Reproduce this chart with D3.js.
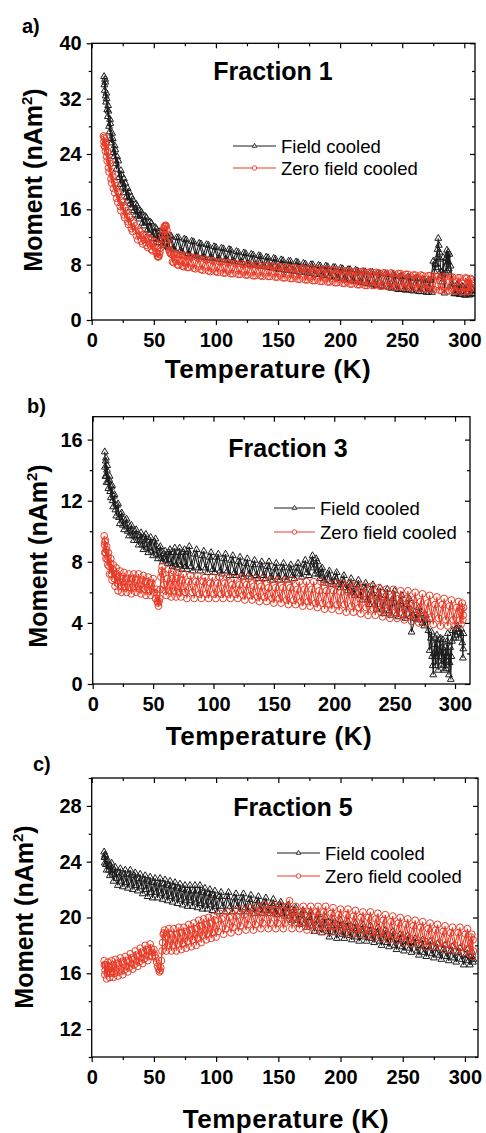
<!DOCTYPE html>
<html>
  <head>
    <meta charset="utf-8">
    <title>Moment vs temperature, fractions 1, 3 and 5</title>
    <style type="text/css">
      body {
        margin: 0;
        background: #fff;
        overflow: hidden;
      }
      text { font-family: "Liberation Sans", Arial, sans-serif; fill: #000; }
    </style>
    <script src="https://d3js.org/d3.v7.min.js"></script>
  </head>
  <body>
    <svg width="486" height="1133"></svg>
    <script>
      // ---- data: [temperature K, moment nAm^2] ----
      // each curve is a noisy band, kept as two interleaved sweeps (…, …b)
      const fc1 = [[10,35.2],[10.5,33.2],[11,34.4],[11.5,31.5],[12,32.0],[13,29.4],[13.5,30.2],[14.5,27.2],[15,28.4],[16,25.6],[17,26.2],[18,23.6],[19,24.6],[20,21.8],[21.5,23.0],[23,19.6],[24,21.0],[25.5,18.4],[27,19.8],[28.5,17.2],[30,18.5],[31.5,16.2],[33,17.4],[35,15.2],[36.5,16.5],[38,14.6],[40,15.6],[42,13.6],[44,14.8],[46,12.6],[48,14.0],[50,11.8],[52,13.2],[54,11.2],[56,12.7],[58,10.8],[60,12.4],[62,10.4],[64,12.1],[67,10.1],[70,11.9],[73,9.8],[76,11.6],[79,9.4],[82,11.3],[85,9.2],[88,11.0],[91,9.0],[94,10.8],[97,8.9],[100,10.5],[103,8.8],[106,10.3],[109,8.6],[112,10.1],[115,8.4],[118,9.8],[121,8.3],[124,9.6],[127,8.0],[130,9.4],[133,7.9],[136,9.2],[139,7.7],[142,9.0],[145,7.5],[148,8.8],[151,7.3],[154,8.6],[157,7.2],[160,8.5],[163,7.0],[166,8.3],[169,6.9],[172,8.1],[175,6.7],[178,8.0],[181,6.6],[184,7.8],[187,6.4],[190,7.7],[193,6.2],[196,7.6],[199,6.0],[202,7.4],[205,5.8],[208,7.3],[211,5.6],[214,7.1],[217,5.4],[220,7.0],[223,5.2],[226,6.9],[229,5.0],[232,6.7],[235,4.8],[238,6.6],[241,4.6],[244,6.4],[247,4.4],[250,6.3],[253,4.3],[256,6.1],[259,4.2],[262,6.0],[265,4.1],[268,5.8],[271,4.0],[273,5.7],[275,8.5],[276,7.0],[277,8.0],[278,9.0],[279,11.8],[279.5,10.8],[280,9.8],[280.5,8.8],[281,7.0],[282,5.5],[283,9.0],[284,3.9],[285,6.8],[286,10.1],[286.5,9.4],[287,8.4],[287.5,7.4],[288,9.5],[289,7.8],[290,5.2],[292,3.8],[294,5.1],[296,3.7],[298,4.9],[300,3.6],[302,4.8],[304,3.6],[306,4.6],[306.5,3.8]];
      const fc1b = [[10.2,34.0],[10.8,34.8],[11.2,32.4],[11.8,32.8],[12.5,30.4],[13.2,31.0],[14,28.0],[14.8,29.0],[15.5,26.2],[16.5,27.0],[17.5,24.2],[18.5,25.2],[19.5,22.6],[20.5,23.6],[22,20.6],[23.5,21.6],[25,19.2],[26,20.4],[28,17.8],[29,19.0],[31,16.8],[32,17.8],[34,15.8],[35.5,16.8],[37,15.0],[39,15.8],[41,14.0],[43,15.0],[45,13.0],[47,14.2],[49,12.3],[51,13.4],[53,11.6],[55,12.8],[57,11.0],[59,12.5],[61,10.6],[63,12.2],[65.5,10.3],[68.5,11.9],[71.5,10.0],[74.5,11.7],[77.5,9.6],[80.5,11.4],[83.5,9.3],[86.5,11.1],[89.5,9.1],[92.5,10.9],[95.5,9.0],[98.5,10.6],[101.5,8.8],[104.5,10.4],[107.5,8.7],[110.5,10.2],[113.5,8.5],[116.5,9.9],[119.5,8.3],[122.5,9.7],[125.5,8.1],[128.5,9.5],[131.5,7.9],[134.5,9.3],[137.5,7.8],[140.5,9.1],[143.5,7.6],[146.5,8.9],[149.5,7.4],[152.5,8.7],[155.5,7.2],[158.5,8.5],[161.5,7.1],[164.5,8.4],[167.5,6.9],[170.5,8.2],[173.5,6.8],[176.5,8.0],[179.5,6.6],[182.5,7.9],[185.5,6.5],[188.5,7.8],[191.5,6.3],[194.5,7.6],[197.5,6.1],[200.5,7.5],[203.5,5.9],[206.5,7.3],[209.5,5.7],[212.5,7.2],[215.5,5.5],[218.5,7.0],[221.5,5.3],[224.5,6.9],[227.5,5.1],[230.5,6.8],[233.5,4.9],[236.5,6.6],[239.5,4.7],[242.5,6.5],[245.5,4.5],[248.5,6.3],[251.5,4.4],[254.5,6.2],[257.5,4.3],[260.5,6.0],[263.5,4.1],[266.5,5.9],[269.5,4.0],[272,5.7],[274,4.0],[276.5,8.2],[278.5,10.2],[279,7.6],[281.5,6.4],[285.5,8.9],[286,7.1],[287,9.8],[291,4.9],[293,3.8],[295,5.0],[297,3.7],[299,4.8],[301,3.6],[303,4.7],[305,3.7],[306.3,4.4]];
      const zfc1 = [[9.5,26.6],[10,25.2],[10.5,26.2],[11,24.4],[11.5,25.4],[12.5,23.0],[13,24.4],[14,21.4],[15,22.6],[16,19.8],[17,20.8],[18.5,18.4],[19.5,19.4],[21,17.0],[22,18.2],[23.5,15.8],[25,17.0],[26.5,14.8],[28,15.8],[29.5,13.8],[31,14.8],[33,12.8],[35,13.6],[37,11.6],[39,12.8],[41,11.0],[43,12.2],[45,10.5],[47,11.7],[49,10.0],[51,11.2],[52.5,9.6],[53.5,9.1],[54.5,9.5],[55.5,10.4],[56.5,11.6],[57.5,12.8],[58.5,13.5],[59.5,13.7],[60.5,13.0],[61.5,11.6],[62.5,10.0],[63.5,9.6],[65,8.4],[67,9.6],[69,8.0],[71,9.4],[73,7.8],[75,9.3],[77,7.6],[79,9.1],[82,7.5],[85,9.0],[88,7.3],[91,8.8],[94,7.1],[97,8.6],[100,7.0],[103,8.4],[106,6.8],[109,8.3],[112,6.7],[115,8.2],[118,6.6],[121,8.1],[124,6.5],[127,8.0],[130,6.4],[133,7.9],[136,6.4],[139,7.8],[142,6.3],[145,7.8],[148,6.2],[151,7.7],[154,6.1],[157,7.6],[160,6.0],[163,7.6],[166,5.9],[169,7.5],[172,5.8],[175,7.4],[178,5.7],[181,7.4],[184,5.6],[187,7.3],[190,5.5],[193,7.2],[196,5.4],[199,7.2],[202,5.3],[205,7.1],[208,5.2],[211,7.0],[214,5.1],[217,7.0],[220,5.0],[223,6.9],[226,5.0],[229,6.9],[232,4.9],[235,6.8],[238,4.9],[241,6.8],[244,4.8],[247,6.7],[250,4.8],[253,6.6],[256,4.7],[259,6.5],[262,4.6],[265,6.5],[268,4.5],[271,6.4],[274,4.4],[277,6.3],[280,4.3],[283,6.3],[286,4.2],[289,6.2],[292,4.2],[295,6.1],[298,4.1],[301,6.1],[303,4.1],[305,6.0],[305.5,4.3],[306,5.5]];
      const zfc1b = [[9.8,25.8],[10.2,26.4],[10.8,25.0],[11.2,25.6],[12,23.6],[12.8,24.2],[13.5,22.0],[14.5,23.0],[15.5,20.4],[16.5,21.4],[17.5,19.0],[18.8,19.8],[20,17.6],[21.5,18.4],[23,16.4],[24.2,17.2],[26,15.2],[27.2,16.2],[29,14.2],[30.2,15.0],[32,13.2],[34,14.0],[36,12.2],[38,13.0],[40,11.4],[42,12.4],[44,10.8],[46,11.9],[48,10.2],[50,11.4],[51.8,9.8],[53,9.2],[54,9.2],[55,9.9],[56,10.9],[57,12.2],[58,13.2],[59,13.6],[60,13.5],[61,12.4],[62,10.8],[63,9.8],[64,9.5],[66,8.3],[68,9.5],[70,7.9],[72,9.4],[74,7.7],[76,9.2],[78,7.6],[80.5,9.1],[83.5,7.4],[86.5,8.9],[89.5,7.2],[92.5,8.7],[95.5,7.0],[98.5,8.5],[101.5,6.9],[104.5,8.4],[107.5,6.8],[110.5,8.3],[113.5,6.7],[116.5,8.1],[119.5,6.6],[122.5,8.0],[125.5,6.5],[128.5,7.9],[131.5,6.4],[134.5,7.9],[137.5,6.3],[140.5,7.8],[143.5,6.3],[146.5,7.7],[149.5,6.2],[152.5,7.7],[155.5,6.1],[158.5,7.6],[161.5,6.0],[164.5,7.5],[167.5,5.9],[170.5,7.5],[173.5,5.8],[176.5,7.4],[179.5,5.7],[182.5,7.3],[185.5,5.6],[188.5,7.3],[191.5,5.5],[194.5,7.2],[197.5,5.4],[200.5,7.1],[203.5,5.3],[206.5,7.1],[209.5,5.2],[212.5,7.0],[215.5,5.1],[218.5,7.0],[221.5,5.0],[224.5,6.9],[227.5,5.0],[230.5,6.8],[233.5,4.9],[236.5,6.8],[239.5,4.9],[242.5,6.7],[245.5,4.8],[248.5,6.7],[251.5,4.7],[254.5,6.6],[257.5,4.7],[260.5,6.5],[263.5,4.6],[266.5,6.4],[269.5,4.5],[272.5,6.4],[275.5,4.4],[278.5,6.3],[281.5,4.3],[284.5,6.2],[287.5,4.2],[290.5,6.2],[293.5,4.2],[296.5,6.1],[299.5,4.1],[302,6.0],[304,4.2],[305.8,5.8],[306.2,4.6]];

      const fc3 = [[10,15.2],[10.5,13.6],[11,14.8],[11.5,13.2],[12,14.3],[13,12.8],[14,13.6],[15,12.2],[16,13.0],[17,11.6],[18,12.4],[19.5,11.0],[21,11.8],[22.5,10.5],[24,11.2],[26,10.1],[28,10.8],[30,9.7],[32,10.4],[34,9.4],[36,10.1],[38,9.1],[40,9.9],[42,8.8],[44,9.8],[46,8.6],[48,9.6],[50,8.4],[52,9.5],[54,8.2],[56,9.0],[58,8.0],[60,8.7],[62,7.9],[64,8.8],[66,7.7],[68,8.9],[70,7.6],[72,8.9],[74,7.5],[76,8.8],[78,7.5],[80,9.0],[83,7.4],[86,8.8],[89,7.4],[92,8.7],[95,7.3],[98,8.6],[101,7.3],[104,8.5],[107,7.2],[110,8.5],[113,7.1],[116,8.4],[119,7.1],[122,8.3],[125,7.0],[128,8.2],[131,7.0],[134,8.1],[137,6.9],[140,8.0],[143,6.9],[146,8.0],[149,6.8],[152,7.9],[155,6.8],[158,7.9],[161,6.8],[164,7.8],[167,6.9],[170,7.9],[173,7.0],[176,8.1],[179,7.1],[182,8.4],[184,7.2],[186,8.0],[188,6.9],[190,7.6],[193,6.6],[196,7.4],[199,6.5],[202,7.3],[205,6.3],[208,7.1],[211,6.1],[214,6.9],[217,5.8],[220,6.8],[223,5.5],[226,6.6],[229,5.2],[232,6.5],[235,4.9],[238,6.3],[241,4.6],[244,6.2],[247,4.5],[250,6.1],[253,4.4],[256,5.8],[259,4.3],[262,5.6],[264,3.4],[267,4.3],[270,5.0],[273,4.0],[276,4.5],[278,3.5],[280,3.0],[281,1.8],[282,0.6],[283,2.6],[284,1.2],[285,3.2],[286,0.9],[287,2.2],[288,3.0],[289,1.3],[290,2.9],[291,0.9],[292,2.4],[293,1.5],[294,3.3],[295,0.6],[296,2.4],[296.5,0.3],[297,1.8],[298,3.5],[300,3.2],[302,3.8],[304,3.4],[306,2.7],[306.5,1.7],[307,3.3]];
      const fc3b = [[10.2,14.2],[10.8,14.6],[11.2,13.6],[11.8,14.0],[12.5,13.2],[13.5,13.4],[14.5,12.6],[15.5,12.9],[16.5,12.0],[17.5,12.3],[18.8,11.4],[20.2,11.7],[21.8,10.9],[23.2,11.1],[25,10.4],[27,10.7],[29,10.0],[31,10.3],[33,9.7],[35,10.0],[37,9.4],[39,9.7],[41,9.1],[43,9.6],[45,8.9],[47,9.4],[49,8.7],[51,9.3],[53,8.5],[55,8.9],[57,8.2],[59,8.5],[61,8.1],[63,8.6],[65,7.9],[67,8.6],[69,7.8],[71,8.6],[73,7.8],[75,8.6],[77,7.7],[79,8.7],[81.5,7.7],[84.5,8.5],[87.5,7.6],[90.5,8.4],[93.5,7.6],[96.5,8.3],[99.5,7.5],[102.5,8.3],[105.5,7.4],[108.5,8.2],[111.5,7.4],[114.5,8.1],[117.5,7.3],[120.5,8.0],[123.5,7.2],[126.5,7.9],[129.5,7.2],[132.5,7.8],[135.5,7.1],[138.5,7.8],[141.5,7.1],[144.5,7.7],[147.5,7.0],[150.5,7.6],[153.5,7.0],[156.5,7.6],[159.5,7.0],[162.5,7.6],[165.5,7.1],[168.5,7.6],[171.5,7.2],[174.5,7.8],[177.5,7.3],[180.5,8.0],[183,7.6],[185,8.2],[187,7.2],[189,7.5],[191.5,6.8],[194.5,7.2],[197.5,6.7],[200.5,7.0],[203.5,6.5],[206.5,6.8],[209.5,6.3],[212.5,6.6],[215.5,6.0],[218.5,6.5],[221.5,5.8],[224.5,6.3],[227.5,5.5],[230.5,6.1],[233.5,5.2],[236.5,5.9],[239.5,4.9],[242.5,5.8],[245.5,4.8],[248.5,5.6],[251.5,4.6],[254.5,5.4],[257.5,4.5],[260.5,5.2],[263,4.4],[265.5,4.8],[268.5,4.2],[271.5,4.6],[274.5,3.8],[277,4.2],[279,2.2],[280.5,3.4],[281.5,1.2],[282.5,2.0],[283.5,3.0],[284.5,1.8],[285.5,2.6],[286.5,1.5],[287.5,2.9],[288.5,1.8],[289.5,2.4],[290.5,1.2],[291.5,2.0],[292.5,1.0],[293.5,2.8],[294.5,1.8],[295.5,1.4],[297.5,2.8],[299,3.0],[301,3.6],[303,3.0],[305,3.6],[306.8,2.3]];
      const zfc3 = [[9.5,9.7],[10,8.6],[10.5,9.4],[11,8.2],[11.5,9.0],[12.5,7.8],[13,8.6],[14,7.2],[15,8.2],[16,6.8],[17,7.8],[18.5,6.4],[19.5,7.6],[21,6.1],[22.5,7.4],[24,6.0],[26,7.3],[28,6.0],[30,7.2],[32,5.9],[34,7.2],[36,6.0],[38,7.2],[40,5.9],[42,7.1],[44,5.8],[46,7.0],[48,5.8],[50,6.9],[52,5.6],[53.5,5.4],[54.5,5.1],[55.5,5.6],[56.5,7.0],[57.5,7.7],[59,6.5],[61,5.8],[63,7.5],[65,5.7],[67,7.4],[69,5.7],[71,7.3],[73,5.7],[75,7.2],[78,5.6],[81,7.1],[84,5.6],[87,7.1],[90,5.6],[93,7.0],[96,5.6],[99,7.0],[102,5.6],[105,7.0],[108,5.6],[111,7.0],[114,5.6],[117,6.9],[120,5.6],[123,7.0],[126,5.5],[129,6.9],[132,5.5],[135,6.9],[138,5.4],[141,6.9],[144,5.4],[147,6.8],[150,5.3],[153,6.8],[156,5.3],[159,6.8],[162,5.2],[165,6.8],[168,5.2],[171,6.7],[174,5.1],[177,6.7],[180,5.1],[183,6.7],[186,5.0],[189,6.7],[192,4.9],[195,6.6],[198,4.9],[201,6.6],[204,4.8],[207,6.6],[210,4.7],[213,6.6],[216,4.7],[219,6.5],[222,4.6],[225,6.4],[228,4.5],[231,6.4],[234,4.5],[237,6.3],[240,4.4],[243,6.2],[246,4.3],[249,6.2],[252,4.3],[255,6.1],[258,4.2],[261,6.1],[264,4.1],[267,6.0],[270,4.0],[273,5.9],[276,4.0],[279,5.8],[282,3.9],[285,5.7],[288,3.8],[291,5.6],[294,3.8],[297,5.5],[300,3.8],[303,5.4],[305,3.9],[306,5.3],[306.5,4.2],[307,5.0]];
      const zfc3b = [[9.8,9.1],[10.2,9.3],[10.8,8.6],[11.2,8.8],[12,8.2],[12.8,8.3],[13.5,7.7],[14.5,7.9],[15.5,7.2],[16.5,7.5],[17.8,6.9],[19,7.2],[20.2,6.6],[21.8,7.0],[23.2,6.4],[25,6.9],[27,6.3],[29,6.9],[31,6.3],[33,6.9],[35,6.3],[37,6.8],[39,6.2],[41,6.8],[43,6.2],[45,6.7],[47,6.1],[49,6.6],[51,6.0],[52.8,6.2],[54,5.3],[55,5.4],[56,6.2],[57,7.4],[58,7.2],[60,6.1],[62,6.9],[64,6.1],[66,6.9],[68,6.1],[70,6.9],[72,6.0],[74,6.8],[76.5,6.0],[79.5,6.7],[82.5,6.0],[85.5,6.7],[88.5,5.9],[91.5,6.7],[94.5,5.9],[97.5,6.6],[100.5,5.9],[103.5,6.6],[106.5,5.9],[109.5,6.6],[112.5,5.9],[115.5,6.5],[118.5,5.9],[121.5,6.5],[124.5,5.8],[127.5,6.5],[130.5,5.8],[133.5,6.4],[136.5,5.7],[139.5,6.4],[142.5,5.7],[145.5,6.3],[148.5,5.6],[151.5,6.3],[154.5,5.6],[157.5,6.3],[160.5,5.5],[163.5,6.3],[166.5,5.5],[169.5,6.2],[172.5,5.4],[175.5,6.2],[178.5,5.4],[181.5,6.2],[184.5,5.3],[187.5,6.1],[190.5,5.3],[193.5,6.1],[196.5,5.2],[199.5,6.1],[202.5,5.2],[205.5,6.0],[208.5,5.2],[211.5,6.0],[214.5,5.1],[217.5,6.0],[220.5,5.0],[223.5,5.9],[226.5,5.0],[229.5,5.8],[232.5,4.9],[235.5,5.8],[238.5,4.9],[241.5,5.7],[244.5,4.8],[247.5,5.7],[250.5,4.7],[253.5,5.6],[256.5,4.6],[259.5,5.6],[262.5,4.6],[265.5,5.5],[268.5,4.5],[271.5,5.4],[274.5,4.5],[277.5,5.3],[280.5,4.4],[283.5,5.2],[286.5,4.3],[289.5,5.2],[292.5,4.2],[295.5,5.1],[298.5,4.2],[301.5,5.0],[304,4.2],[305.5,4.9],[306.8,4.5]];

      const fc5 = [[10,24.7],[10.5,23.9],[11,24.4],[12,23.4],[13,24.1],[14.5,23.0],[16,23.9],[17.5,22.6],[19,23.6],[21,22.3],[23,23.5],[25,22.2],[27,23.4],[29,22.1],[31,23.4],[33,22.0],[35,23.2],[37,21.9],[39,23.1],[41,21.7],[43,23.0],[45,21.5],[47,22.9],[49,21.4],[51,22.8],[53,21.4],[55,22.8],[57,21.3],[59,22.7],[61,21.2],[63,22.6],[65,21.1],[67,22.5],[69,21.0],[71,22.4],[73,20.9],[75,22.3],[77,20.8],[79,22.3],[81,20.8],[83,22.3],[85,20.7],[87,22.3],[89,20.6],[91,22.1],[93,20.6],[95,22.0],[97,20.5],[99,21.9],[101,20.4],[104,21.8],[107,20.4],[110,21.8],[113,20.4],[116,21.7],[119,20.4],[122,21.7],[125,20.4],[128,21.6],[131,20.3],[134,21.5],[137,20.3],[140,21.4],[143,20.3],[146,21.3],[149,20.2],[152,21.1],[155,20.1],[158,20.9],[161,19.8],[164,20.7],[167,19.5],[170,20.5],[173,19.3],[176,20.4],[179,19.0],[182,20.2],[185,18.9],[188,20.0],[191,18.6],[194,19.9],[197,18.5],[200,19.8],[203,18.5],[206,19.7],[209,18.4],[212,19.6],[215,18.3],[218,19.5],[221,18.3],[224,19.4],[227,18.2],[230,19.3],[233,18.0],[236,19.1],[239,17.9],[242,19.0],[245,17.7],[248,18.8],[251,17.6],[254,18.7],[257,17.5],[260,18.5],[263,17.3],[266,18.4],[269,17.2],[272,18.3],[275,17.1],[278,18.1],[281,17.0],[284,18.0],[287,16.9],[290,17.9],[293,16.8],[296,17.8],[299,16.6],[302,17.7],[304,16.6],[306,17.5],[306.5,16.8]];
      const fc5b = [[10.2,24.3],[10.8,24.5],[11.5,23.8],[12.5,24.0],[13.8,23.4],[15.2,23.7],[16.8,23.1],[18.2,23.4],[20,22.8],[22,23.2],[24,22.6],[26,23.1],[28,22.5],[30,23.1],[32,22.4],[34,23.0],[36,22.3],[38,22.8],[40,22.2],[42,22.7],[44,22.0],[46,22.6],[48,21.8],[50,22.5],[52,21.8],[54,22.4],[56,21.7],[58,22.4],[60,21.6],[62,22.3],[64,21.5],[66,22.2],[68,21.4],[70,22.1],[72,21.3],[74,22.0],[76,21.2],[78,21.9],[80,21.2],[82,21.9],[84,21.1],[86,21.9],[88,21.0],[90,21.8],[92,20.9],[94,21.7],[96,20.9],[98,21.6],[100,20.8],[102.5,21.5],[105.5,20.8],[108.5,21.5],[111.5,20.8],[114.5,21.4],[117.5,20.8],[120.5,21.4],[123.5,20.7],[126.5,21.3],[129.5,20.6],[132.5,21.2],[135.5,20.6],[138.5,21.1],[141.5,20.5],[144.5,21.0],[147.5,20.4],[150.5,20.9],[153.5,20.3],[156.5,20.7],[159.5,20.1],[162.5,20.5],[165.5,19.8],[168.5,20.2],[171.5,19.6],[174.5,20.0],[177.5,19.4],[180.5,19.8],[183.5,19.2],[186.5,19.6],[189.5,19.0],[192.5,19.4],[195.5,18.9],[198.5,19.4],[201.5,18.8],[204.5,19.3],[207.5,18.7],[210.5,19.2],[213.5,18.6],[216.5,19.1],[219.5,18.6],[222.5,19.0],[225.5,18.5],[228.5,18.9],[231.5,18.3],[234.5,18.8],[237.5,18.2],[240.5,18.6],[243.5,18.0],[246.5,18.4],[249.5,17.9],[252.5,18.3],[255.5,17.8],[258.5,18.2],[261.5,17.6],[264.5,18.0],[267.5,17.5],[270.5,17.9],[273.5,17.4],[276.5,17.8],[279.5,17.3],[282.5,17.7],[285.5,17.2],[288.5,17.6],[291.5,17.1],[294.5,17.5],[297.5,17.0],[300.5,17.3],[303,16.9],[305,17.2],[306.8,17.0]];
      const zfc5 = [[10,16.9],[10.5,15.9],[11,16.6],[12,15.6],[13,16.8],[14.5,15.7],[16,16.9],[17.5,15.7],[19,17.0],[21,15.8],[23,17.1],[25,15.9],[27,17.2],[29,16.1],[31,17.4],[33,16.3],[35,17.6],[37,16.5],[39,17.8],[41,16.7],[43,18.0],[45,16.9],[47,18.1],[48.5,17.2],[50,17.7],[51.5,17.1],[53,16.5],[54.5,16.1],[55.5,16.4],[56.5,17.6],[57.5,18.8],[58.5,19.1],[60,17.6],[62,19.2],[64,17.6],[66,19.2],[68,17.6],[70,19.3],[72,17.7],[74,19.3],[76,17.8],[78,19.5],[80,17.9],[82,19.6],[84,18.0],[86,19.8],[88,18.2],[90,19.9],[92,18.4],[94,20.0],[96,18.5],[98,20.1],[100,18.6],[103,20.3],[106,18.8],[109,20.4],[112,18.9],[115,20.5],[118,19.0],[121,20.6],[124,19.1],[127,20.7],[130,19.1],[133,20.8],[136,19.2],[139,20.9],[142,19.2],[145,20.9],[148,19.2],[151,20.9],[154,19.2],[157,20.8],[159,21.2],[161,19.2],[164,20.8],[167,19.2],[170,20.8],[173,19.1],[176,20.8],[179,19.1],[182,20.8],[185,19.0],[188,20.8],[191,19.0],[194,20.7],[197,19.0],[200,20.6],[203,18.9],[206,20.6],[209,18.8],[212,20.5],[215,18.8],[218,20.4],[221,18.7],[224,20.4],[227,18.6],[230,20.3],[233,18.5],[236,20.2],[239,18.4],[242,20.1],[245,18.3],[248,20.0],[251,18.2],[254,19.9],[257,18.1],[260,19.8],[263,18.0],[266,19.7],[269,17.9],[272,19.6],[275,17.9],[278,19.5],[281,17.8],[284,19.4],[287,17.7],[290,19.3],[293,17.6],[296,19.3],[299,17.5],[302,19.2],[304,17.4],[305.5,18.8],[306,17.2],[306.5,18.4]];
      const zfc5b = [[10.2,16.6],[10.8,16.2],[11.5,16.6],[12.5,16.0],[13.8,16.5],[15.2,16.0],[16.8,16.6],[18.2,16.0],[20,16.7],[22,16.1],[24,16.8],[26,16.2],[28,16.9],[30,16.4],[32,17.1],[34,16.6],[36,17.3],[38,16.8],[40,17.5],[42,17.0],[44,17.7],[46,17.2],[47.8,17.8],[49.2,17.5],[50.8,17.3],[52.2,16.8],[53.8,16.3],[55,16.2],[56,16.9],[57,18.2],[58,18.9],[59,18.6],[61,18.0],[63,18.8],[65,18.0],[67,18.8],[69,18.1],[71,18.9],[73,18.1],[75,19.0],[77,18.3],[79,19.1],[81,18.4],[83,19.2],[85,18.5],[87,19.4],[89,18.7],[91,19.5],[93,18.8],[95,19.6],[97,18.9],[99,19.8],[101.5,19.0],[104.5,19.9],[107.5,19.2],[110.5,20.0],[113.5,19.3],[116.5,20.1],[119.5,19.4],[122.5,20.2],[125.5,19.5],[128.5,20.3],[131.5,19.5],[134.5,20.4],[137.5,19.6],[140.5,20.5],[143.5,19.6],[146.5,20.5],[149.5,19.6],[152.5,20.5],[155.5,19.6],[158.5,20.4],[160,19.7],[162.5,20.4],[165.5,19.6],[168.5,20.4],[171.5,19.6],[174.5,20.4],[177.5,19.5],[180.5,20.4],[183.5,19.5],[186.5,20.4],[189.5,19.4],[192.5,20.3],[195.5,19.4],[198.5,20.2],[201.5,19.3],[204.5,20.2],[207.5,19.2],[210.5,20.1],[213.5,19.2],[216.5,20.0],[219.5,19.1],[222.5,20.0],[225.5,19.0],[228.5,19.9],[231.5,18.9],[234.5,19.8],[237.5,18.8],[240.5,19.7],[243.5,18.7],[246.5,19.6],[249.5,18.6],[252.5,19.5],[255.5,18.5],[258.5,19.4],[261.5,18.4],[264.5,19.3],[267.5,18.3],[270.5,19.2],[273.5,18.3],[276.5,19.1],[279.5,18.2],[282.5,19.0],[285.5,18.1],[288.5,18.9],[291.5,18.0],[294.5,18.9],[297.5,17.9],[300.5,18.8],[303,17.8],[305,18.6],[306.8,17.6]];

      const seriesNames = ['Field cooled', 'Zero field cooled'];
      const xTicks = [0, 50, 100, 150, 200, 250, 300];
      const xMinor = [25, 75, 125, 175, 225, 275];

      const colors = { fc: '#1e1e1e', zfc: '#e83b27' };

      const panels = [
        { letter: 'a)', title: 'Fraction 1', fc: [fc1, fc1b], zfc: [zfc1, zfc1b],
          xMax: 308.6, yDomain: [0, 40], yTicks: [0, 8, 16, 24, 32, 40], yMinor: [4, 12, 20, 28, 36],
          box: { left: 91.7, right: 475, top: 43.3, bottom: 320 },
          letterPos: [22, 33], titlePos: [273, 80], legend: [233, 276, 146, 22],
          xLabelPos: [268, 378], yLabelPos: [42, 180] },
        { letter: 'b)', title: 'Fraction 3', fc: [fc3, fc3b], zfc: [zfc3, zfc3b],
          xMax: 312.4, yDomain: [0, 17.5], yTicks: [0, 4, 8, 12, 16], yMinor: [2, 6, 10, 14],
          box: { left: 92.7, right: 470, top: 416.7, bottom: 684 },
          letterPos: [27, 413], titlePos: [288, 457], legend: [274, 315, 508, 24],
          xLabelPos: [269, 745], yLabelPos: [47, 556] },
        { letter: 'c)', title: 'Fraction 5', fc: [fc5, fc5b], zfc: [zfc5, zfc5b],
          xMax: 310.5, yDomain: [10, 30], yTicks: [12, 16, 20, 24, 28], yMinor: [10, 14, 18, 22, 26, 30],
          box: { left: 91.7, right: 478, top: 778, bottom: 1057 },
          letterPos: [33, 771], titlePos: [293, 816], legend: [277, 320, 853, 23],
          xLabelPos: [286, 1128], yLabelPos: [33, 917] }
      ];

      const svg = d3.select('svg');
      const triangle = d3.symbol(d3.symbolTriangle, 20);
      const circle = d3.symbol(d3.symbolCircle, 36);
      const triSmall = d3.symbol(d3.symbolTriangle, 9);
      const circSmall = d3.symbol(d3.symbolCircle, 16);

      panels.forEach((p, i) => {
        const b = p.box;
        const x = d3.scaleLinear().domain([0, p.xMax]).range([b.left, b.right]);
        const y = d3.scaleLinear().domain(p.yDomain).range([b.bottom, b.top]);
        const g = svg.append('g');

        const clipId = 'clip' + i;
        g.append('clipPath').attr('id', clipId)
          .append('rect')
            .attr('x', b.left).attr('y', b.top)
            .attr('width', b.right - b.left).attr('height', b.bottom - b.top);

        const plot = g.append('g').attr('clip-path', `url(#${clipId})`);
        const line = d3.line().x(d => x(d[0])).y(d => y(d[1]));

        [['fc', triangle], ['zfc', circle]].forEach(([key, sym]) => {
          p[key].forEach(sweep => {
            plot.append('path')
              .attr('d', line(sweep))
              .attr('fill', 'none')
              .attr('stroke', colors[key])
              .attr('stroke-width', 1.1);
          });
          p[key].forEach(sweep => {
            plot.append('g').selectAll('path')
              .data(sweep)
              .join('path')
                .attr('transform', d => `translate(${x(d[0])},${y(d[1])})`)
                .attr('d', sym)
                .attr('fill', 'none')
                .attr('stroke', colors[key])
                .attr('stroke-width', 1);
          });
        });

        // axes: outward on bottom / left, mirrored inward on top / right
        const axisStyle = sel => {
          sel.select('.domain').remove();
          sel.selectAll('line').attr('stroke', '#000').attr('stroke-width', 1.2);
          sel.selectAll('text')
            .style('font-family', '"Liberation Sans", Arial, sans-serif')
            .style('font-weight', 'bold')
            .style('font-size', '20px')
            .attr('fill', '#000');
        };
        g.append('g').attr('transform', `translate(0,${b.bottom})`)
          .call(d3.axisBottom(x).tickValues(xTicks).tickSize(5).tickPadding(8).tickFormat(d3.format('d')))
          .call(axisStyle);
        g.append('g').attr('transform', `translate(0,${b.bottom})`)
          .call(d3.axisBottom(x).tickValues(xMinor).tickSize(3).tickFormat(''))
          .call(axisStyle);
        g.append('g').attr('transform', `translate(${b.left},0)`)
          .call(d3.axisLeft(y).tickValues(p.yTicks).tickSize(5).tickPadding(5).tickFormat(d3.format('d')))
          .call(axisStyle);
        g.append('g').attr('transform', `translate(${b.left},0)`)
          .call(d3.axisLeft(y).tickValues(p.yMinor).tickSize(3).tickFormat(''))
          .call(axisStyle);
        g.append('g').attr('transform', `translate(0,${b.top})`)
          .call(d3.axisTop(x).tickValues(xTicks).tickSize(-5).tickFormat(''))
          .call(axisStyle);
        g.append('g').attr('transform', `translate(0,${b.top})`)
          .call(d3.axisTop(x).tickValues(xMinor).tickSize(-3).tickFormat(''))
          .call(axisStyle);
        g.append('g').attr('transform', `translate(${b.right},0)`)
          .call(d3.axisRight(y).tickValues(p.yTicks).tickSize(-5).tickFormat(''))
          .call(axisStyle);
        g.append('g').attr('transform', `translate(${b.right},0)`)
          .call(d3.axisRight(y).tickValues(p.yMinor).tickSize(-3).tickFormat(''))
          .call(axisStyle);

        g.append('rect')
          .attr('x', b.left).attr('y', b.top)
          .attr('width', b.right - b.left).attr('height', b.bottom - b.top)
          .attr('fill', 'none').attr('stroke', '#000').attr('stroke-width', 1.3);

        // texts
        g.append('text')
          .attr('x', p.letterPos[0]).attr('y', p.letterPos[1])
          .style('font-size', '20px').style('font-weight', 'bold')
          .text(p.letter);
        g.append('text')
          .attr('x', p.titlePos[0]).attr('y', p.titlePos[1])
          .attr('text-anchor', 'middle')
          .style('font-size', '25px').style('font-weight', 'bold')
          .text(p.title);
        g.append('text')
          .attr('x', p.xLabelPos[0]).attr('y', p.xLabelPos[1])
          .attr('text-anchor', 'middle')
          .style('font-size', '26px').style('font-weight', 'bold')
          .style('letter-spacing', '0.5px')
          .text('Temperature (K)');
        const yl = g.append('text')
          .attr('transform', `translate(${p.yLabelPos[0]},${p.yLabelPos[1]}) rotate(-90)`)
          .attr('text-anchor', 'middle')
          .style('font-size', '25px').style('font-weight', 'bold');
        yl.append('tspan').text('Moment (nAm');
        yl.append('tspan').attr('dy', -10).style('font-size', '15px').text('2');
        yl.append('tspan').attr('dy', 10).text(')');

        // legend
        const [lx0, lx1, ly0, ldy] = p.legend;
        [['fc', triSmall], ['zfc', circSmall]].forEach(([key, sym], k) => {
          const ly = ly0 + k * ldy;
          g.append('line')
            .attr('x1', lx0).attr('x2', lx1).attr('y1', ly).attr('y2', ly)
            .attr('stroke', colors[key]).attr('stroke-width', 1.1);
          g.append('path')
            .attr('transform', `translate(${(lx0 + lx1) / 2},${ly})`)
            .attr('d', sym)
            .attr('fill', '#fff')
            .attr('stroke', colors[key]).attr('stroke-width', 0.9);
          g.append('text')
            .attr('x', lx1 + 5).attr('y', ly + 6.5)
            .style('font-size', '18.5px')
            .text(seriesNames[k]);
        });
      });
    </script>
  </body>
</html>
